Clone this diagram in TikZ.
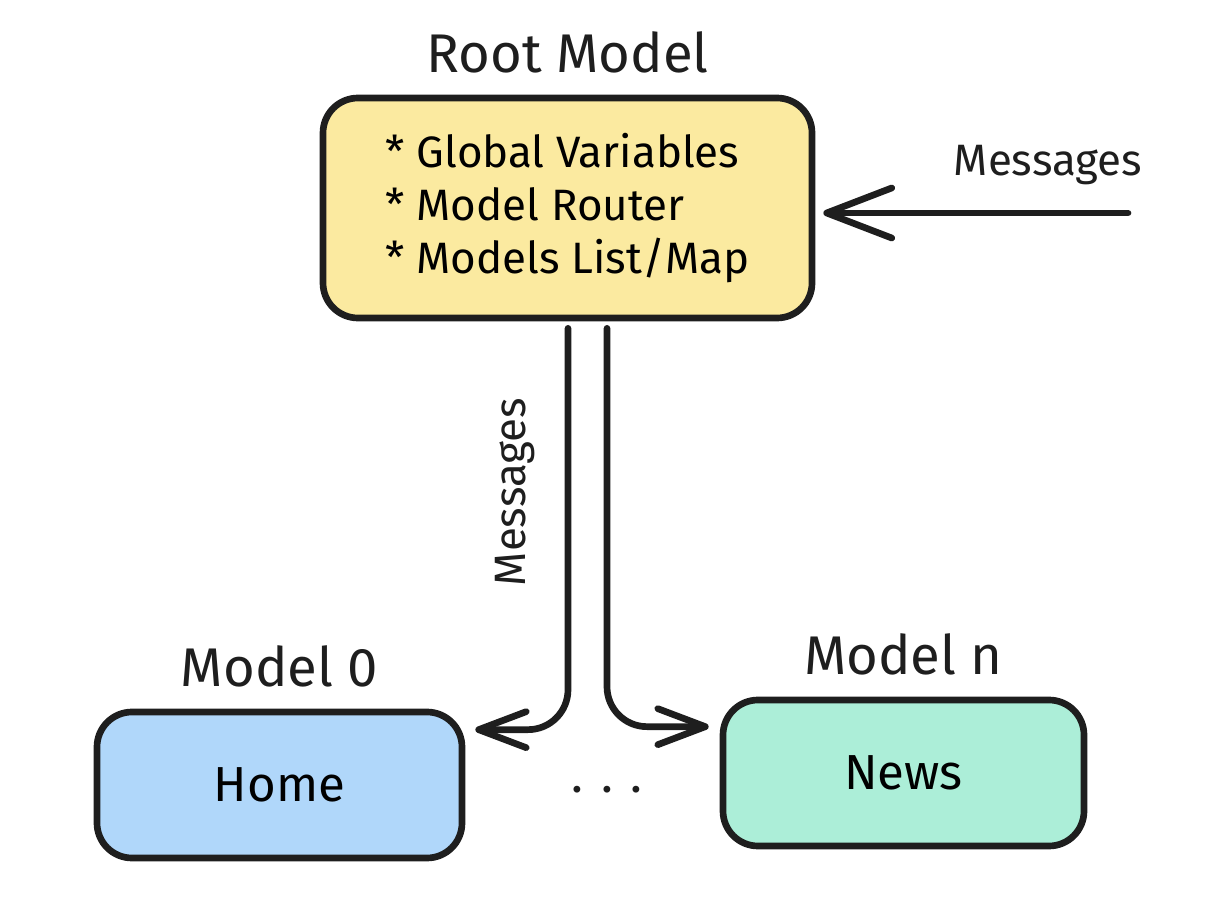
\documentclass[tikz,border=0pt]{standalone}
\usepackage{fontspec}
\setmainfont{Fira Sans}
\usetikzlibrary{arrows.meta, positioning}
\definecolor{rootyellow}{RGB}{251, 234, 160}
\definecolor{homeblue}{RGB}{176, 215, 250}
\definecolor{newsgreen}{RGB}{172, 238, 216}
\definecolor{inkgray}{RGB}{30, 30, 30}

\begin{document}
\begin{tikzpicture}[
  modbox/.style={draw=inkgray, line width=3.8pt, rounded corners=0.7cm, align=center, inner sep=0pt},
  title/.style={font=\fontsize{31}{36}\selectfont, text=inkgray},
  flow/.style={draw=inkgray, line width=3.8pt, line cap=round, rounded corners=0.8cm,
    -{Straight Barb[length=0.95cm, width=0.72cm, round]}},
  bigflow/.style={flow, -{Straight Barb[length=1.3cm, width=1.0cm, round]}},
  msg/.style={font=\fontsize{25}{30}\selectfont, text=inkgray}
]
  \useasboundingbox (0, 0) rectangle (24.6, 17.92);

  % root model
  \node[modbox, fill=rootyellow, minimum width=9.78cm, minimum height=4.4cm,
    font=\fontsize{25}{30}\selectfont, align=left] (root) at (11.35, 13.76) {
    * Global Variables\\
    * Model Router\\
    * Models List/Map
  };
  \node[title, above=0.3cm of root] (roottitle) {Root Model};

  % child models
  \node[modbox, fill=homeblue, minimum width=7.3cm, minimum height=2.92cm,
    font=\fontsize{28}{32}\selectfont] (home) at (5.59, 2.22) {Home};
  \node[title, above=0.3cm of home] (hometitle) {Model 0};

  \node[modbox, fill=newsgreen, minimum width=7.22cm, minimum height=2.92cm,
    font=\fontsize{28}{32}\selectfont] (news) at (18.07, 2.46) {News};
  \node[title, above=0.3cm of news] (newstitle) {Model n};

  \node[font=\fontsize{28}{32}\selectfont, text=inkgray] (dots) at (12.14, 2.12) {. . .};

  % incoming messages
  \coordinate (inmsg) at (22.56, 13.66);
  \draw[bigflow] (inmsg) -- ([xshift=0.16cm]root.east |- inmsg);
  \node[msg] (msgin) at (20.96, 14.62) {Messages};

  % routed messages
  \draw[flow] ([xshift=0.01cm, yshift=-0.14cm]root.south) |- ([xshift=0.2cm, yshift=-0.42cm]home.north east);
  \draw[flow] ([xshift=0.79cm, yshift=-0.14cm]root.south) |- ([xshift=-0.22cm, yshift=-0.6cm]news.north west);
  \node[msg, rotate=90] (msgdown) at (10.3, 8.08) {Messages};
\end{tikzpicture}
\end{document}
